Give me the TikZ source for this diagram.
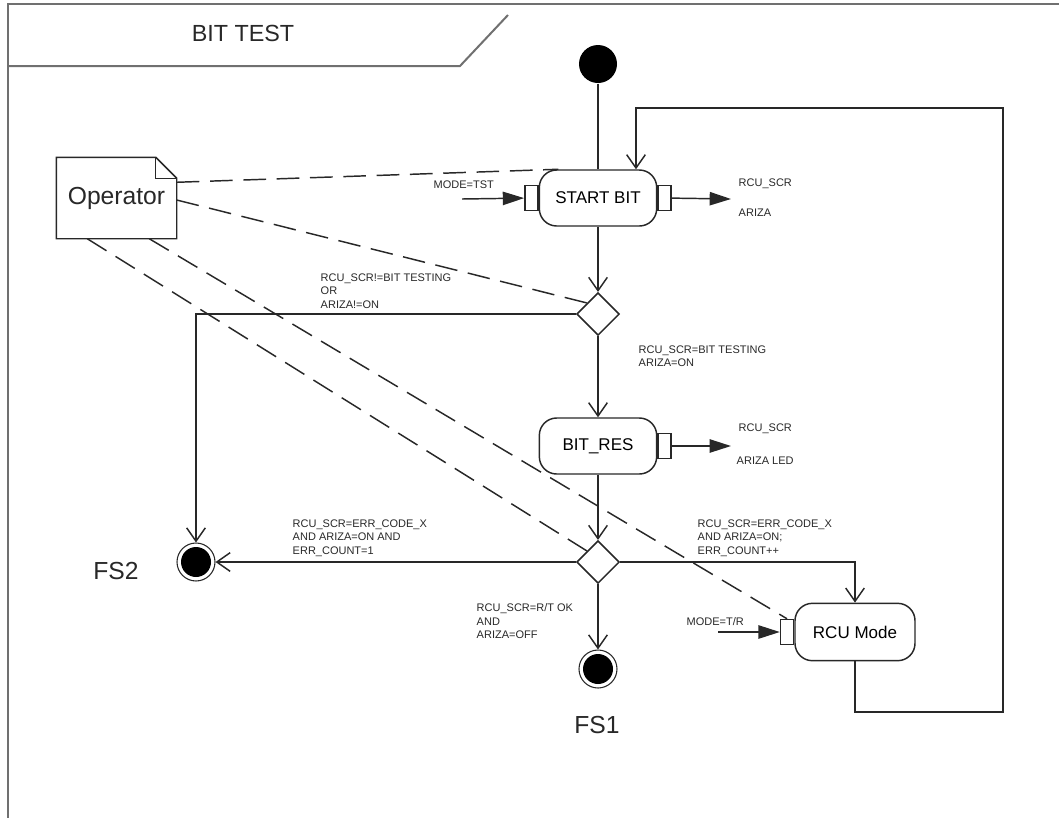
\documentclass[tikz,border=0pt]{standalone}
\usepackage{fontspec}
\setmainfont{Liberation Sans}
\usetikzlibrary{arrows.meta,shapes.geometric,calc}

\definecolor{framegray}{RGB}{112,112,112}
\definecolor{ink}{RGB}{40,40,40}

\tikzset{every picture/.style={line width=1.1pt}}
\tikzset{
  state/.style={draw=ink, rectangle, rounded corners=13pt, minimum width=88pt, minimum height=42pt, inner sep=0pt, font=\fontsize{12.75}{14}\selectfont},
  port/.style={draw=ink, rectangle, minimum width=9.75pt, minimum height=18.75pt, inner sep=0pt},
  decision/.style={draw=ink, diamond, minimum width=32pt, minimum height=32pt, inner sep=0pt},
  initstate/.style={circle, fill=black, minimum size=28.5pt, inner sep=0pt},
  finalstate/.style={draw=ink, circle, line width=0.8pt, minimum size=28.5pt, inner sep=0pt,
    path picture={\fill[black] (path picture bounding box.center) circle (11.25pt);}},
  flow/.style={draw=ink, -{Straight Barb[length=10pt,width=14pt]}},
  signal/.style={draw=ink, -{Triangle[length=16pt,width=10pt]}},
  assoc/.style={draw=ink, dash pattern=on 17pt off 8pt},
  guard/.style={anchor=north west, inner sep=0.75pt, align=left, font=\fontsize{8.25}{10}\selectfont, text=ink},
  bigtext/.style={inner sep=0.75pt, font=\fontsize{18.5}{20}\selectfont, text=ink},
  frame/.style={draw=framegray, line width=2pt}
}

\begin{document}
\begin{tikzpicture}[x=0.75pt,y=0.75pt,yscale=-1,xscale=1]
\useasboundingbox (0,0) rectangle (1059,818);

% Frame
\draw[frame] (1059,4) -- (8,4) -- (8,818);
\draw[frame, line width=1.5pt] (8,66) -- (460,66) -- (508,15);
\node[bigtext, font=\fontsize{17.5}{20}\selectfont] (title) at (243,33) {BIT TEST};

% States
\node[initstate] (init) at (598,64) {};
\node[state] (startbit) at (598,198) {START BIT};
\node[port, anchor=east] (sbin) at (startbit.west) {};
\node[port, anchor=west] (sbout) at (startbit.east) {};
\node[decision] (d1) at (598,314) {};
\node[state] (bitres) at (598,446) {BIT\_RES};
\node[port, anchor=west] (brout) at (bitres.east) {};
\node[decision] (d2) at (598,562) {};
\node[state, minimum width=90pt, minimum height=43pt] (rcu) at (855,632) {RCU Mode};
\node[port, anchor=east] (rcuin) at (rcu.west) {};
\node[finalstate] (fs1) at (598,669) {};
\node[finalstate] (fs2) at (196,562) {};
\node[bigtext] (fs1lbl) at (597,725) {FS1};
\node[bigtext] (fs2lbl) at (116,571) {FS2};

% Operator note
\node[minimum width=89.25pt, minimum height=60pt, inner sep=0pt, font=\fontsize{18.5}{20}\selectfont, text=ink] (op) at (116.5,198) {\raisebox{-4pt}{Operator}};
\draw[ink] (op.north west) -- ($(op.north east)+(-21,0)$) -- ($(op.north east)+(0,21)$) -- (op.south east) -- (op.south west) -- cycle;
\draw[ink] ($(op.north east)+(-21,0)$) |- ($(op.north east)+(0,21)$);

% Transitions
\draw[ink] (init) -- (startbit);
\draw[flow] (startbit) -- (d1);
\draw[flow] (d1) -- (bitres);
\draw[flow] (bitres) -- (d2);
\draw[flow] (d2) -- (fs1);
\draw[flow] (d2) -- (fs2);
\draw[flow] (d1.west) -| (fs2.north);
\draw[flow] (d2.east) -| (rcu.north);
\coordinate (loopbl) at (855,712);
\coordinate (loopbr) at (1003,712);
\coordinate (looptr) at (1003,108);
\coordinate (looptl) at (636,108);
\draw[flow] (rcu.south) -- (loopbl) -- (loopbr) -- (looptr) -- (looptl) -- (looptl |- startbit.north);

% Signals
\coordinate (tstsrc) at (462,199);
\coordinate (sbdst) at (731,199);
\coordinate (brdst) at (731,446);
\coordinate (trsrc) at (718,632);
\draw[signal] (tstsrc) -- (sbin);
\draw[signal] (sbout) -- (sbdst);
\draw[signal] (brout) -- (brdst);
\draw[signal] (trsrc) -- (rcuin);

% Operator links
\draw[assoc] ($(op.north east)+(0,25)$) -- (startbit.144);
\draw[assoc] ($(op.east)+(0,2)$) -- (d1.north west);
\draw[assoc] ($(op.south west)+(31,0)$) -- (d2.north west);
\draw[assoc] ($(op.south west)+(93,0)$) -- (rcuin.north);

% Text Node
\node[guard] (tstlbl) at (432,179) {MODE=TST};
\node[guard] (sbo1) at (737,177) {RCU\_SCR};
\node[guard] (sbo2) at (737,207) {ARIZA};
\node[guard] (g1) at (319,272) {RCU\_SCR!=BIT TESTING\\OR\\ARIZA!=ON};
\node[guard] (g2) at (637,344) {RCU\_SCR=BIT TESTING\\ARIZA=ON};
\node[guard] (bro1) at (737,422) {RCU\_SCR};
\node[guard] (bro2) at (735,455) {ARIZA LED};
\node[guard] (g3) at (291,518) {RCU\_SCR=ERR\_CODE\_X\\AND ARIZA=ON AND\\ERR\_COUNT=1};
\node[guard] (g4) at (696,518) {RCU\_SCR=ERR\_CODE\_X\\AND ARIZA=ON;\\ERR\_COUNT++};
\node[guard] (g5) at (475,602) {RCU\_SCR=R/T OK\\AND\\ARIZA=OFF};
\node[guard] (trlbl) at (685,616) {MODE=T/R};

\end{tikzpicture}
\end{document}
